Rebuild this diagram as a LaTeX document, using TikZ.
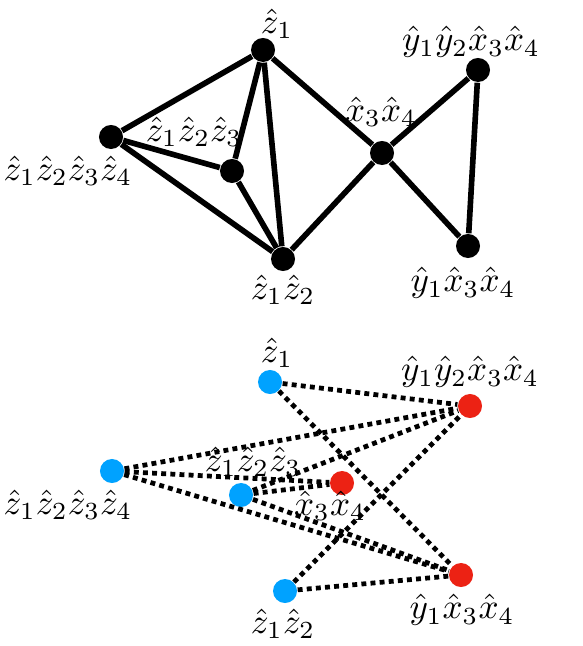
\documentclass[tikz,border=0pt]{standalone}
\usepackage{xcolor}
\usepackage{tikz}

\definecolor{vblue}{RGB}{0,162,255}
\definecolor{vred}{RGB}{236,34,20}

\begin{document}
\begin{tikzpicture}[x=0.01cm, y=-0.01cm]
    \tikzstyle{vert} = [circle, fill=black, inner sep=0pt, minimum size=0.24cm]
    \tikzstyle{bvert} = [vert, fill=vblue]
    \tikzstyle{rvert} = [vert, fill=vred]
    \tikzstyle{lbl} = [inner sep=0pt, font=\fontsize{10}{12}\selectfont]
    \tikzstyle{line} = [draw, line width=1.6pt]
    \tikzstyle{dline} = [draw, line width=1.35pt, dash pattern=on 1.4pt off 1.2pt]

    \useasboundingbox (0,0) rectangle (582,646);

    % upper graph
    \node [vert] (za) at (263,50) {};
    \node [vert] (zabcd) at (111,137) {};
    \node [vert] (zabc) at (232,171) {};
    \node [vert] (zab) at (283,259) {};
    \node [vert] (xx) at (382,153) {};
    \node [vert] (yyxx) at (478,70) {};
    \node [vert] (yxx) at (468,246) {};

    \node [lbl] (lza) at (277,24) {$\hat z_1$};
    \node [lbl] (lzabcd) at (68,171) {$\hat z_1\hat z_2\hat z_3\hat z_4$};
    \node [lbl] (lzabc) at (194,132) {$\hat z_1\hat z_2\hat z_3$};
    \node [lbl] (lzab) at (283,290) {$\hat z_1\hat z_2$};
    \node [lbl] (lxx) at (381,112) {$\hat x_3\hat x_4$};
    \node [lbl] (lyyxx) at (471,42) {$\hat y_1\hat y_2\hat x_3\hat x_4$};
    \node [lbl] (lyxx) at (463,283) {$\hat y_1\hat x_3\hat x_4$};

    \path [line] (za) -- (zabcd);
    \path [line] (za) -- (zabc);
    \path [line] (za) -- (zab);
    \path [line] (za) -- (xx);
    \path [line] (zabcd) -- (zabc);
    \path [line] (zabcd) -- (zab);
    \path [line] (zabc) -- (zab);
    \path [line] (zab) -- (xx);
    \path [line] (xx) -- (yyxx);
    \path [line] (xx) -- (yxx);
    \path [line] (yyxx) -- (yxx);

    % lower graph
    \node [bvert] (bza) at (270,382) {};
    \node [bvert] (bzabcd) at (112,471) {};
    \node [bvert] (bzabc) at (241,495) {};
    \node [bvert] (bzab) at (285,591) {};
    \node [rvert] (byyxx) at (470,406) {};
    \node [rvert] (bxx) at (342,483) {};
    \node [rvert] (byxx) at (461,575) {};

    \node [lbl] (lbza) at (277,353) {$\hat z_1$};
    \node [lbl] (lbzabcd) at (68,505) {$\hat z_1\hat z_2\hat z_3\hat z_4$};
    \node [lbl] (lbzabc) at (253,462) {$\hat z_1\hat z_2\hat z_3$};
    \node [lbl] (lbzab) at (283,624) {$\hat z_1\hat z_2$};
    \node [lbl] (lbyyxx) at (470,372) {$\hat y_1\hat y_2\hat x_3\hat x_4$};
    \node [lbl] (lbxx) at (330,506) {$\hat x_3\hat x_4$};
    \node [lbl] (lbyxx) at (462,610) {$\hat y_1\hat x_3\hat x_4$};

    \path [dline] (bza) -- (byyxx);
    \path [dline] (bza) -- (byxx);
    \path [dline] (bzabcd) -- (byyxx);
    \path [dline] (bzabcd) -- (bxx);
    \path [dline] (bzabcd) -- (byxx);
    \path [dline] (bzabc) -- (byyxx);
    \path [dline] (bzabc) -- (bxx);
    \path [dline] (bzabc) -- (byxx);
    \path [dline] (bzab) -- (byyxx);
    \path [dline] (bzab) -- (byxx);
\end{tikzpicture}
\end{document}
